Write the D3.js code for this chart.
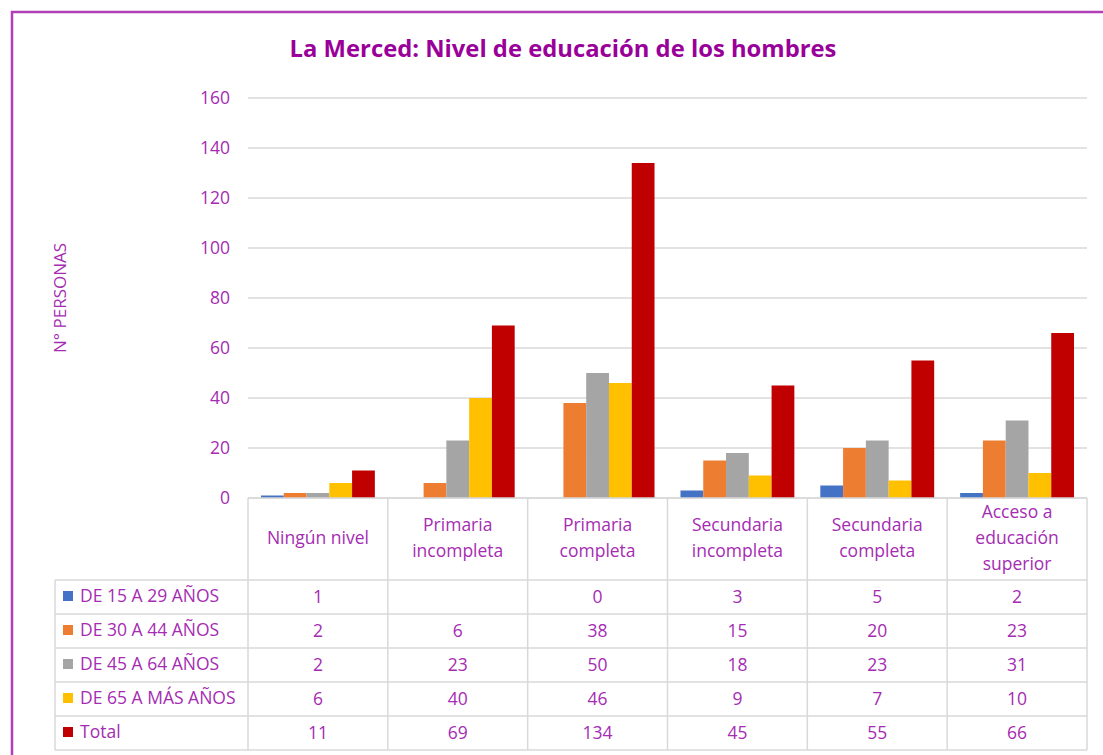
<!DOCTYPE html>
<html>
<head>
<meta charset="utf-8">
<script src="https://cdn.jsdelivr.net/npm/d3@7"></script>
<style>
  body { margin: 0; background: #fff; }
  svg { display: block; font-family: 'Open Sans', sans-serif; }
</style>
</head>
<body>
<svg id="chart" width="1103" height="755"></svg>
<script>
// categories along the x axis (header cells of the table)
const categories = [
  ['Ningún nivel'],
  ['Primaria', 'incompleta'],
  ['Primaria', 'completa'],
  ['Secundaria', 'incompleta'],
  ['Secundaria', 'completa'],
  ['Acceso a', 'educación', 'superior']
];
const seriesNames = ['DE 15 A 29 AÑOS', 'DE 30 A 44 AÑOS', 'DE 45 A 64 AÑOS', 'DE 65 A MÁS AÑOS', 'Total'];
const seriesColors = ['#4472c4', '#ed7d31', '#a5a5a5', '#ffc000', '#c00000'];

// values per series, one per category (null = empty cell)
const age15to29 = [1, null, 0, 3, 5, 2];
const age30to44 = [2, 6, 38, 15, 20, 23];
const age45to64 = [2, 23, 50, 18, 23, 31];
const age65plus = [6, 40, 46, 9, 7, 10];
const total = [11, 69, 134, 45, 55, 66];
const seriesValues = [age15to29, age30to44, age45to64, age65plus, total];

const yTicks = [0, 20, 40, 60, 80, 100, 120, 140, 160];

const purple = '#990099';
const lightPurple = '#a52cb2';
const gridColor = '#d9d9d9';
const fs = 17.5;

const svg = d3.select('#chart');

// outer purple frame (right side runs off the picture)
svg.append('rect')
  .attr('x', 12).attr('y', 12)
  .attr('width', 1200).attr('height', 800)
  .attr('fill', 'none')
  .attr('stroke', '#b040b8')
  .attr('stroke-width', 2.5);

svg.append('text')
  .attr('x', 563).attr('y', 57)
  .attr('text-anchor', 'middle')
  .attr('font-size', 23.8)
  .attr('font-weight', 'bold')
  .attr('fill', purple)
  .text('La Merced: Nivel de educación de los hombres');

const plotLeft = 248, plotRight = 1087;

const x = d3.scaleBand()
  .domain(d3.range(categories.length))
  .range([plotLeft, plotRight]);

const xInner = d3.scaleBand()
  .domain(d3.range(seriesNames.length))
  .range([0, x.bandwidth()])
  .paddingOuter(0.57)
  .paddingInner(0);

const y = d3.scaleLinear()
  .domain([0, 160])
  .range([498, 98]);

// gridlines
svg.append('g')
  .selectAll('line')
  .data(yTicks)
  .join('line')
  .attr('x1', plotLeft).attr('x2', plotRight)
  .attr('y1', d => y(d)).attr('y2', d => y(d))
  .attr('stroke', gridColor)
  .attr('stroke-width', 1.5);

// y axis labels
const yAxis = d3.axisLeft(y).tickValues(yTicks).tickSize(0).tickPadding(0);
const yg = svg.append('g')
  .attr('transform', 'translate(230,0)')
  .call(yAxis);
yg.select('.domain').remove();
yg.selectAll('text')
  .attr('font-size', fs)
  .attr('font-family', "'Open Sans', sans-serif")
  .attr('fill', lightPurple);

svg.append('text')
  .attr('transform', 'translate(66,298) rotate(-90)')
  .attr('text-anchor', 'middle')
  .attr('font-size', 17)
  .attr('fill', lightPurple)
  .text('N° PERSONAS');

// bars
seriesValues.forEach((vals, si) => {
  svg.append('g')
    .selectAll('rect')
    .data(vals.map((v, ci) => ({ v, ci })).filter(d => d.v !== null))
    .join('rect')
    .attr('x', d => x(d.ci) + xInner(si))
    .attr('width', xInner.bandwidth())
    .attr('y', d => y(d.v))
    .attr('height', d => y(0) - y(d.v))
    .attr('fill', seriesColors[si]);
});

// data table
const tableLeft = 55;
const headerTop = 498, headerBottom = 580, rowH = 34;
const rowTops = d3.range(seriesNames.length).map(i => headerBottom + i * rowH);
const tableBottom = headerBottom + seriesNames.length * rowH;

const tg = svg.append('g').attr('stroke', gridColor).attr('stroke-width', 1.5);
// vertical lines
d3.range(categories.length + 1).forEach(i => {
  const xx = i < categories.length ? x(i) : plotRight;
  tg.append('line').attr('x1', xx).attr('x2', xx).attr('y1', headerTop).attr('y2', tableBottom);
});
tg.append('line').attr('x1', tableLeft).attr('x2', tableLeft).attr('y1', headerBottom).attr('y2', tableBottom);
// horizontal lines
tg.append('line').attr('x1', plotLeft).attr('x2', plotRight).attr('y1', headerTop).attr('y2', headerTop);
rowTops.concat([tableBottom]).forEach(yy => {
  tg.append('line').attr('x1', tableLeft).attr('x2', plotRight).attr('y1', yy).attr('y2', yy);
});

// header texts
categories.forEach((lines, ci) => {
  const cx = x(ci) + x.bandwidth() / 2;
  const lh = 26;
  const startY = (headerTop + headerBottom) / 2 - (lines.length - 1) * lh / 2 + 5;
  const t = svg.append('text')
    .attr('text-anchor', 'middle')
    .attr('font-size', fs)
    .attr('fill', lightPurple);
  lines.forEach((ln, li) => {
    t.append('tspan').attr('x', cx).attr('y', startY + li * lh).text(ln);
  });
});

// row labels with legend keys
seriesNames.forEach((name, si) => {
  const cy = rowTops[si] + rowH / 2;
  svg.append('rect')
    .attr('x', 63).attr('y', cy - 6)
    .attr('width', 10).attr('height', 10)
    .attr('fill', seriesColors[si]);
  svg.append('text')
    .attr('x', 80).attr('y', cy + 5)
    .attr('font-size', 17.5)
    .attr('fill', lightPurple)
    .text(name);
  seriesValues[si].forEach((v, ci) => {
    if (v === null) return;
    svg.append('text')
      .attr('x', x(ci) + x.bandwidth() / 2)
      .attr('y', cy + 6)
      .attr('text-anchor', 'middle')
      .attr('font-size', fs)
      .attr('fill', lightPurple)
      .text(v);
  });
});
</script>
</body>
</html>
